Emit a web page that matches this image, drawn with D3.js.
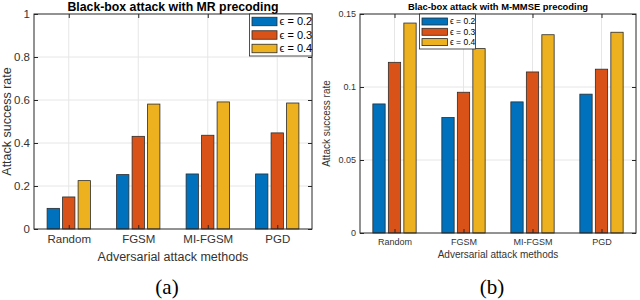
<!DOCTYPE html>
<html>
<head>
<meta charset="utf-8">
<script src="https://d3js.org/d3.v7.min.js"></script>
<style>
  body { margin: 0; background: #fff; }
  svg { display: block; font-family: Arial, "Liberation Sans", sans-serif; }
</style>
</head>
<body>
<svg id="chart" width="640" height="300"></svg>
<script>
// data
const methods = ['Random', 'FGSM', 'MI-FGSM', 'PGD'];
const epsLabels = ['\u03f5 = 0.2', '\u03f5 = 0.3', '\u03f5 = 0.4'];
const colors = ['#0072BD', '#D95319', '#EDB120'];

const mrEps02 = [0.096, 0.253, 0.256, 0.256];
const mrEps03 = [0.149, 0.431, 0.436, 0.447];
const mrEps04 = [0.225, 0.581, 0.591, 0.586];
const mrTicks = [0, 0.2, 0.4, 0.6, 0.8, 1];

const mmseEps02 = [0.0884, 0.0791, 0.0898, 0.0951];
const mmseEps03 = [0.1169, 0.0964, 0.1103, 0.1122];
const mmseEps04 = [0.1438, 0.1263, 0.1358, 0.1375];
const mmseTicks = [0, 0.05, 0.1, 0.15];

const svg = d3.select('#chart');

function drawPanel(o) {
  const g = svg.append('g');
  const x = d3.scaleLinear().domain([0.5, 4.5]).range([o.left, o.right]);
  const y = d3.scaleLinear().domain([0, o.ymax]).range([o.bottom, o.top]);
  const barW = 12.3, step = 15.5;

  // grid
  g.selectAll('.gy').data(o.ticks.slice(1, -1)).enter().append('line')
    .attr('x1', o.left).attr('x2', o.right)
    .attr('y1', d => y(d)).attr('y2', d => y(d))
    .attr('stroke', '#e6e6e6').attr('stroke-width', 1);
  g.selectAll('.gx').data(methods).enter().append('line')
    .attr('x1', (d, i) => x(i + 1)).attr('x2', (d, i) => x(i + 1))
    .attr('y1', o.top).attr('y2', o.bottom)
    .attr('stroke', '#e6e6e6').attr('stroke-width', 1);

  // bars
  o.series.forEach((vals, s) => {
    g.selectAll('.b' + s).data(vals).enter().append('rect')
      .attr('x', (d, i) => x(i + 1) + (s - 1) * step - barW / 2)
      .attr('y', d => y(d))
      .attr('width', barW)
      .attr('height', d => y(0) - y(d))
      .attr('fill', colors[s])
      .attr('stroke', '#2b2b2b').attr('stroke-width', 0.8);
  });

  // axes
  const yAxis = d3.axisLeft(y).tickValues(o.ticks).tickSize(4).tickFormat(d => d3.format('')(+d.toFixed(2)));
  const ya = g.append('g').attr('transform', `translate(${o.left},0)`).call(yAxis);
  const yr = g.append('g').attr('transform', `translate(${o.right},0)`)
    .call(d3.axisRight(y).tickValues(o.ticks).tickSize(4).tickFormat(''));
  const xAxis = d3.axisBottom(x).tickValues([1, 2, 3, 4]).tickSize(4).tickFormat((d, i) => methods[i]);
  const xa = g.append('g').attr('transform', `translate(0,${o.bottom})`).call(xAxis);
  const xt = g.append('g').attr('transform', `translate(0,${o.top})`)
    .call(d3.axisTop(x).tickValues([1, 2, 3, 4]).tickSize(4).tickFormat(''));
  [ya, yr, xa, xt].forEach(a => {
    a.selectAll('.tick line').attr('stroke', '#262626').attr('stroke-width', 1)
      .attr('transform', a === ya ? 'translate(4,0)' : a === yr ? 'translate(-4,0)' : a === xa ? 'translate(0,-4)' : 'translate(0,4)');
    a.select('.domain').remove();
  });
  // box
  g.append('rect').attr('x', o.left).attr('y', o.top)
    .attr('width', o.right - o.left).attr('height', o.bottom - o.top)
    .attr('fill', 'none').attr('stroke', '#262626').attr('stroke-width', 1);

  ya.selectAll('text').attr('font-size', o.tickFont).attr('fill', '#333').attr('x', -4);
  xa.selectAll('text').attr('font-size', o.tickFont).attr('fill', '#333').attr('y', 6);

  // labels
  g.append('text').attr('x', (o.left + o.right) / 2).attr('y', o.titleY)
    .attr('text-anchor', 'middle').attr('font-weight', 'bold')
    .attr('font-size', o.titleFont).attr('fill', '#000').text(o.title);
  g.append('text').attr('x', (o.left + o.right) / 2).attr('y', o.xLabelY)
    .attr('text-anchor', 'middle').attr('font-size', o.labelFont)
    .attr('fill', '#333').text('Adversarial attack methods');
  g.append('text')
    .attr('transform', `translate(${o.yLabelX},${(o.top + o.bottom) / 2}) rotate(-90)`)
    .attr('text-anchor', 'middle').attr('font-size', o.labelFont)
    .attr('fill', '#333').text('Attack success rate');
  g.append('text').attr('x', o.capX).attr('y', 294)
    .attr('text-anchor', 'middle').attr('font-family', '"Liberation Serif", "DejaVu Serif", serif')
    .attr('font-size', 21).attr('fill', '#000').text(o.caption);

  // legend
  const lg = g.append('g').attr('transform', `translate(${o.lg.x},${o.lg.y})`);
  lg.append('rect').attr('width', o.lg.w).attr('height', o.lg.h)
    .attr('fill', '#fff').attr('stroke', '#262626').attr('stroke-width', 0.8);
  epsLabels.forEach((t, i) => {
    const cy = o.lg.row0 + i * o.lg.dy;
    lg.append('rect').attr('x', 2.5).attr('y', cy - o.lg.sh / 2)
      .attr('width', o.lg.sw).attr('height', o.lg.sh)
      .attr('fill', colors[i]).attr('stroke', '#2b2b2b').attr('stroke-width', 0.8);
    lg.append('text').attr('x', o.lg.sw + 5).attr('y', cy).attr('dy', '0.35em')
      .attr('font-size', o.lg.font).attr('fill', '#000').text(t);
  });
}

drawPanel({
  left: 34, right: 312, top: 14, bottom: 229, ymax: 1, ticks: mrTicks,
  series: [mrEps02, mrEps03, mrEps04],
  title: 'Black-box attack with MR precoding', titleY: 10.5, titleFont: 12.3,
  tickFont: 11.5, labelFont: 12.5, xLabelY: 261, yLabelX: 10.5,
  capX: 167, caption: '(a)',
  lg: { x: 249.5, y: 14, w: 62.5, h: 42, row0: 7.5, dy: 13.5, sw: 25, sh: 8.5, font: 11 }
});

drawPanel({
  left: 360, right: 636, top: 14, bottom: 233, ymax: 0.15, ticks: mmseTicks,
  series: [mmseEps02, mmseEps03, mmseEps04],
  title: 'Blac-box attack with M-MMSE precoding', titleY: 10, titleFont: 9.4,
  tickFont: 9, labelFont: 10, xLabelY: 258, yLabelX: 330,
  capX: 492, caption: '(b)',
  lg: { x: 419.5, y: 14, w: 56, h: 35, row0: 7.5, dy: 10.3, sw: 25.5, sh: 7, font: 8.5 }
});
</script>
</body>
</html>
